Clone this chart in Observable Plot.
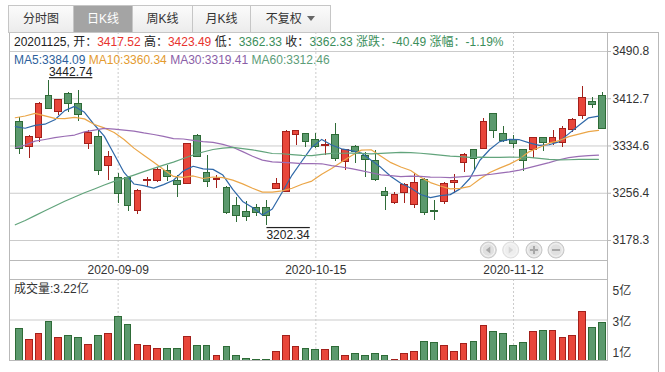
<!DOCTYPE html>
<html><head><meta charset="utf-8">
<script src="https://cdn.jsdelivr.net/npm/d3@7"></script>
<script src="https://cdn.jsdelivr.net/npm/@observablehq/plot@0.6"></script>
<style>
body{margin:0;background:#fff;}
#wrap{position:relative;width:665px;height:372px;overflow:hidden;font-family:"Liberation Sans","Noto Sans CJK SC",sans-serif;font-size:12px;color:#222;}
#wrap > *{position:absolute;left:0;top:0;}
.tab{box-sizing:border-box;top:5px !important;height:28px;border:1px solid #c6c6c6;border-right:none;background:linear-gradient(#fbfbfb,#ececec);text-align:center;line-height:26px;color:#333;font-size:12px;}
.tab.sel{background:#a4a4a4;color:#fff;}
.tab.last{border-right:1px solid #c6c6c6;}
.txt{white-space:nowrap;line-height:14px;}
.r{color:#e8332e}.g{color:#3b8e5a}
</style></head><body><div id="wrap"></div>
<script>
const dates = ["2020-08-26","2020-08-27","2020-08-28","2020-08-31","2020-09-01","2020-09-02","2020-09-03","2020-09-04","2020-09-07","2020-09-08",
"2020-09-09","2020-09-10","2020-09-11","2020-09-14","2020-09-15","2020-09-16","2020-09-17","2020-09-18","2020-09-21","2020-09-22",
"2020-09-23","2020-09-24","2020-09-25","2020-09-28","2020-09-29","2020-09-30","2020-10-09","2020-10-12","2020-10-13","2020-10-14",
"2020-10-15","2020-10-16","2020-10-19","2020-10-20","2020-10-21","2020-10-22","2020-10-23","2020-10-26","2020-10-27","2020-10-28",
"2020-10-29","2020-10-30","2020-11-02","2020-11-03","2020-11-04","2020-11-05","2020-11-06","2020-11-09","2020-11-10","2020-11-11",
"2020-11-12","2020-11-13","2020-11-16","2020-11-17","2020-11-18","2020-11-19","2020-11-20","2020-11-23","2020-11-24","2020-11-25"];
const open = [3373.9,3333,3348,3417,3391,3420,3404,3338,3350,3302,
3282,3281,3227,3277,3276.4,3294,3277.5,3272,3350.3,3290,
3278.5,3264.8,3235,3225,3232,3232,3263.8,3258,3353,3354.8,
3343.7,3335,3352,3307.8,3333.7,3317.2,3309,3258.2,3240,3256.5,
3237.8,3278.7,3227,3241.6,3273,3306.8,3327.2,3330,3387.9,3354.8,
3344.9,3328.3,3328.3,3348.2,3340,3340,3361.4,3383.9,3408,3417.52];
const high = [3382,3352,3407,3442.74,3412,3423.6,3426.4,3360,3361,3326,
3289.6,3284,3262,3283,3298.5,3302.3,3285.8,3338.5,3353,3318.9,
3286,3267.6,3250,3243,3237.8,3244,3280.3,3360,3361,3356,
3354.8,3344.9,3371.3,3329.5,3335.4,3324.4,3327,3266.4,3258.2,3272,
3288.6,3280.3,3244.4,3274.7,3287.4,3321.5,3329,3380.6,3389,3366.9,
3352,3329,3348.5,3349,3360.2,3366.9,3380,3433,3414.4,3423.49];
const low = [3320.5,3313.4,3340.9,3394.5,3385,3390.5,3375,3328.8,3285.8,3277.5,
3239,3226.7,3220.8,3266.4,3273.9,3276.4,3249.9,3271,3316,3266,
3264.8,3222,3207.5,3210,3218.5,3202.34,3262.1,3257,3335.4,3332.6,
3330,3318.9,3309.5,3294,3305,3282,3276.5,3227.9,3237.8,3240,
3230.7,3219.6,3211.3,3237.8,3255.5,3291.3,3294,3329,3347.5,3340,
3330,3292.4,3313.4,3326,3335.4,3331.6,3357.5,3378.4,3396,3362.33];
const close = [3329.74,3350.11,3403.81,3395.68,3410.61,3404.80,3384.98,3355.37,3292.59,3316.42,
3254.63,3234.82,3260.35,3278.81,3295.68,3283.92,3270.44,3338.09,3316.94,3274.30,
3279.71,3223.18,3219.42,3217.53,3224.36,3218.05,3272.08,3358.47,3359.75,3340.56,
3332.18,3336.36,3312.50,3328.10,3325.03,3312.16,3278.00,3251.12,3254.32,3269.24,
3272.74,3224.53,3225.12,3271.07,3277.44,3320.13,3312.50,3373.73,3360.15,3342.20,
3338.68,3310.10,3346.97,3339.90,3347.30,3363.09,3377.73,3414.49,3402.82,3362.33];
const ma5 = [3366.71,3363.95,3368.58,3370.58,3377.99,3393.00,3399.98,3390.29,3369.67,3350.83,
3320.80,3290.77,3271.76,3269.01,3264.86,3270.72,3277.84,3293.39,3301.01,3296.74,
3295.90,3286.44,3262.71,3242.83,3232.84,3220.51,3230.29,3258.10,3286.54,3309.78,
3332.61,3345.46,3336.27,3329.94,3326.83,3322.83,3311.16,3298.88,3284.13,3272.97,
3265.08,3254.39,3249.19,3252.54,3254.18,3263.66,3281.25,3310.97,3328.79,3341.74,
3345.45,3344.97,3339.62,3335.57,3336.59,3341.47,3355.00,3368.50,3381.09,3384.09];
const ma10 = [3381.24,3384.18,3388.55,3384.24,3380.19,3379.86,3381.96,3379.43,3370.13,3364.41,
3356.90,3345.37,3331.03,3319.34,3307.85,3295.76,3284.30,3282.58,3285.01,3280.80,
3283.31,3282.14,3278.05,3271.92,3264.79,3258.20,3258.37,3260.40,3264.69,3271.31,
3276.56,3287.88,3297.18,3308.24,3318.31,3327.72,3328.31,3317.58,3307.03,3299.90,
3293.96,3282.77,3274.04,3268.33,3263.57,3264.37,3267.82,3280.08,3290.67,3297.96,
3304.56,3313.11,3325.30,3332.18,3339.17,3343.46,3349.99,3354.06,3358.33,3360.34];
const ma30 = [3331.59,3336.26,3342.58,3345.30,3348.29,3350.68,3352.67,3357.96,3360.87,3363.82,
3362.49,3360.76,3359.10,3356.13,3353.60,3350.48,3346.61,3346.08,3344.00,3341.80,
3340.48,3337.23,3332.54,3325.17,3317.61,3311.27,3308.21,3307.47,3306.61,3305.51,
3305.59,3305.14,3302.09,3299.84,3296.99,3293.90,3290.33,3286.86,3285.58,3284.01,
3284.62,3284.27,3283.10,3282.84,3282.23,3283.44,3284.84,3286.03,3287.47,3289.73,
3291.70,3294.60,3298.85,3302.93,3307.02,3311.86,3315.38,3317.25,3318.68,3319.41];
const ma60 = [3204.29,3211.43,3219.44,3227.38,3235.37,3243.16,3250.30,3257.16,3263.36,3269.97,
3276.05,3281.10,3286.41,3292.07,3297.54,3302.85,3307.85,3313.83,3319.75,3324.58,
3328.81,3331.02,3332.13,3330.21,3328.19,3325.10,3322.13,3321.71,3320.32,3319.08,
3318.60,3320.70,3322.34,3322.58,3322.65,3322.30,3321.51,3322.42,3323.23,3323.92,
3323.56,3322.52,3321.10,3319.49,3317.91,3316.96,3315.73,3316.05,3315.74,3315.77,
3316.09,3315.92,3315.70,3314.05,3312.32,3311.57,3311.80,3312.36,3312.65,3312.46];
const volume = [2.83,2.08,2.51,3.24,2.21,2.40,2.27,1.80,2.40,2.53,
3.61,3.09,1.80,1.74,1.50,1.56,1.56,2.32,1.74,1.74,
1.09,1.63,1.05,0.90,0.84,0.84,1.35,2.34,1.63,1.50,
1.44,1.44,1.69,1.05,1.22,1.05,1.18,1.11,0.81,1.18,
1.31,1.95,1.89,1.74,1.35,1.87,2.00,3.03,2.64,2.51,
1.74,1.93,2.64,2.71,2.71,2.25,2.38,3.93,2.90,3.22];
const priceTicks = [3490.8, 3412.7, 3334.6, 3256.4, 3178.3];
const dateTicks = ["2020-09-09", "2020-10-15", "2020-11-12"];
const volTicks = [5, 3, 1];
const volTickLabels = ["5亿", "3亿", "1亿"];
const tabs = ["分时图", "日K线", "周K线", "月K线", "不复权"];
const maNames = ["MA5", "MA10", "MA30", "MA60"];

// styling
const FONT = '"Liberation Sans","Noto Sans CJK SC",sans-serif';
const RED = "#e8463a", RED_D = "#a3201b", GREEN = "#5b996d", GREEN_D = "#2e6b37";
const GRID = "#cbcbcb", FRAME = "#b9b9b9";
const maLine = {MA5: "#2f68a8", MA10: "#eba648", MA30: "#9a6db4", MA60: "#62a47c"};
const maText = {MA5: "#2d5f9c", MA10: "#e49b2f", MA30: "#8b5ea7", MA60: "#5c9d78"};
const W = 665, H = 372, HW = 0.34;
const xDomain = [-0.991, 59.505];

const candles = dates.map((d, i) => ({i, date: d, open: open[i], high: high[i], low: low[i], close: close[i], vol: volume[i], up: close[i] >= open[i]}));
const maVals = {MA5: ma5, MA10: ma10, MA30: ma30, MA60: ma60};
const maRows = maNames.flatMap(n => maVals[n].map((v, i) => ({i, v, name: n, color: maLine[n]})));
const tickIdx = dateTicks.map(d => dates.indexOf(d));
const hiIdx = high.indexOf(d3.max(high)), loIdx = low.indexOf(d3.min(low));
const volDomain = [0.788, 6.014];

const wrap = document.getElementById("wrap");

const main = Plot.plot({
  width: W, height: H,
  marginLeft: 9, marginRight: 58, marginTop: 32, marginBottom: 112,
  x: {domain: xDomain},
  y: {domain: [3145.23, 3522.21], label: null},
  color: {type: "identity"},
  style: {background: "transparent", fontFamily: FONT, fontSize: "12px", color: "#333", overflow: "visible"},
  marks: [
    Plot.gridY(priceTicks, {stroke: GRID, strokeOpacity: 1}),
    Plot.gridX(tickIdx, {stroke: GRID, strokeOpacity: 1, strokeDasharray: "2,2"}),
    Plot.axisY(priceTicks, {anchor: "right", tickSize: 3, tickPadding: 2, tickFormat: d => d.toFixed(1), stroke: FRAME, fill: "#333", label: null, fontSize: 12}),
    Plot.axisX(tickIdx, {anchor: "bottom", tickSize: 0, tickPadding: 5, tickFormat: i => dates[i], fill: "#333", label: null, fontSize: 12}),
    Plot.ruleX(candles, {x: "i", y1: "low", y2: "high", stroke: d => d.up ? RED_D : GREEN_D, shapeRendering: "crispEdges"}),
    Plot.rect(candles, {x1: d => d.i - HW, x2: d => d.i + HW, y1: "open", y2: "close", fill: d => d.up ? RED : GREEN, stroke: d => d.up ? RED_D : GREEN_D, shapeRendering: "crispEdges"}),
    Plot.line(maRows, {x: "i", y: "v", z: "name", stroke: "color", strokeWidth: 1.2, dx: -4}),
    Plot.text([hiIdx], {x: d => d, y: d => high[d], text: d => high[d].toFixed(2), textAnchor: "start", lineAnchor: "bottom", dy: -4.5, fill: "#222", fontSize: 12}),
    Plot.text([loIdx], {x: d => d, y: d => low[d], text: d => low[d].toFixed(2), textAnchor: "start", lineAnchor: "bottom", dy: 13, fill: "#222", fontSize: 12})
  ]
});
const hiTxt = high[hiIdx].toFixed(2), loTxt = low[loIdx].toFixed(2);
d3.select(main).selectAll("text").each(function () {
  if (this.textContent === hiTxt) this.style.textDecoration = "underline";
  if (this.textContent === loTxt) this.style.textDecoration = "overline";
});
wrap.appendChild(main);

const vol = Plot.plot({
  width: W, height: H,
  marginLeft: 9, marginRight: 58, marginTop: 279, marginBottom: 12,
  x: {domain: xDomain, axis: null},
  y: {domain: volDomain, label: null},
  color: {type: "identity"},
  style: {background: "transparent", fontFamily: FONT, fontSize: "12px", color: "#333", overflow: "visible"},
  marks: [
    Plot.gridY([(volDomain[0] + volDomain[1]) / 2], {stroke: GRID, strokeOpacity: 1}),
    Plot.gridX(tickIdx, {stroke: GRID, strokeOpacity: 1, strokeDasharray: "2,2"}),
    Plot.axisY(volTicks, {anchor: "right", tickSize: 0, tickPadding: 5, tickFormat: d => volTickLabels[volTicks.indexOf(d)], lineAnchor: "bottom", fill: "#333", label: null, fontSize: 12}),
    Plot.rect(candles, {x1: d => d.i - HW, x2: d => d.i + HW, y1: volDomain[0], y2: "vol", fill: d => d.up ? RED : GREEN, stroke: d => d.up ? RED_D : GREEN_D, shapeRendering: "crispEdges"})
  ]
});
wrap.appendChild(vol);

// frame lines and navigation buttons
const ns = "http://www.w3.org/2000/svg";
const ov = document.createElementNS(ns, "svg");
ov.setAttribute("width", W); ov.setAttribute("height", H);
ov.style.position = "absolute"; ov.style.left = "0"; ov.style.top = "0";
const frameLines = [
  [9.5, 32.5, 658.5, 32.5], [9.5, 260.5, 607.5, 260.5], [9.5, 279.5, 607.5, 279.5], [9.5, 360.5, 607.5, 360.5],
  [9.5, 32, 9.5, 361], [607.5, 32, 607.5, 361], [658.5, 32, 658.5, 372]
];
frameLines.forEach(([a, b, c, d]) => {
  const l = document.createElementNS(ns, "line");
  l.setAttribute("x1", a); l.setAttribute("y1", b); l.setAttribute("x2", c); l.setAttribute("y2", d);
  l.setAttribute("stroke", FRAME); l.setAttribute("stroke-width", 1);
  ov.appendChild(l);
});
const btns = [[488.3, "prev", false], [510.7, "next", true], [534, "plus", false], [556, "minus", false]];
btns.forEach(([cx, kind, dis]) => {
  const g = document.createElementNS(ns, "g");
  g.setAttribute("transform", `translate(${cx},250)`);
  const c = document.createElementNS(ns, "circle");
  c.setAttribute("r", 8); c.setAttribute("fill", dis ? "#eeeeee" : "#e0e0e0"); c.setAttribute("stroke", dis ? "#dddddd" : "#c8c8c8");
  g.appendChild(c);
  const c2 = document.createElementNS(ns, "circle");
  c2.setAttribute("r", 6.3); c2.setAttribute("fill", "none"); c2.setAttribute("stroke", "#f6f6f6"); c2.setAttribute("stroke-width", 1);
  g.appendChild(c2);
  const col = dis ? "#d6d6d6" : "#a8a8a8";
  let p = document.createElementNS(ns, "path");
  if (kind === "prev") { p.setAttribute("d", "M-2.5,0L2,-3.5L2,3.5Z"); p.setAttribute("fill", col); }
  else if (kind === "next") { p.setAttribute("d", "M2.5,0L-2,-3.5L-2,3.5Z"); p.setAttribute("fill", col); }
  else if (kind === "plus") { p.setAttribute("d", "M-4,0H4M0,-4V4"); p.setAttribute("stroke", col); p.setAttribute("stroke-width", 2); }
  else { p.setAttribute("d", "M-4,0H4"); p.setAttribute("stroke", col); p.setAttribute("stroke-width", 2); }
  g.appendChild(p);
  ov.appendChild(g);
});
wrap.appendChild(ov);

// tabs
const tabEdges = [8, 73, 132, 192, 250, 330];
tabs.forEach((t, k) => {
  const d = document.createElement("div");
  d.className = "tab" + (k === 1 ? " sel" : "") + (k === tabs.length - 1 ? " last" : "");
  d.style.left = tabEdges[k] + "px";
  d.style.width = (tabEdges[k + 1] - tabEdges[k] + (k === tabs.length - 1 ? 1 : 0)) + "px";
  d.innerHTML = k === tabs.length - 1 ? t + '&nbsp;<span style="display:inline-block;width:0;height:0;border-left:4px solid transparent;border-right:4px solid transparent;border-top:5px solid #666;vertical-align:2px;margin-left:2px"></span>' : t;
  wrap.appendChild(d);
});

// info line, MA legend, volume label
const n = dates.length - 1;
const chg = close[n] - close[n - 1];
const pct = chg / close[n - 1] * 100;
const cls = (v, ref) => v >= ref ? "r" : "g";
const info = document.createElement("div");
info.className = "txt";
info.style.left = "14px"; info.style.top = "35px";
info.innerHTML = `${dates[n].replace(/-/g, "")}, 开：<span class="${cls(open[n], close[n-1])}">${open[n].toFixed(2)}</span> 高：<span class="${cls(high[n], close[n-1])}">${high[n].toFixed(2)}</span> 低：<span class="${cls(low[n], close[n-1])}">${low[n].toFixed(2)}</span> 收：<span class="${cls(close[n], close[n-1])}">${close[n].toFixed(2)}</span> <span class="${chg >= 0 ? "r" : "g"}">涨跌：${chg.toFixed(2)} 涨幅：${pct.toFixed(2)}%</span>`;
wrap.appendChild(info);

const leg = document.createElement("div");
leg.className = "txt";
leg.style.left = "14px"; leg.style.top = "52.5px";
leg.innerHTML = maNames.map(m => `<span style="color:${maText[m]}">${m}:${maVals[m][n].toFixed(2)}</span>`).join(" ");
wrap.appendChild(leg);

const vl = document.createElement("div");
vl.className = "txt";
vl.style.left = "14px"; vl.style.top = "282px"; vl.style.color = "#333";
vl.textContent = `成交量:${volume[n].toFixed(2)}亿`;
wrap.appendChild(vl);
</script></body></html>
